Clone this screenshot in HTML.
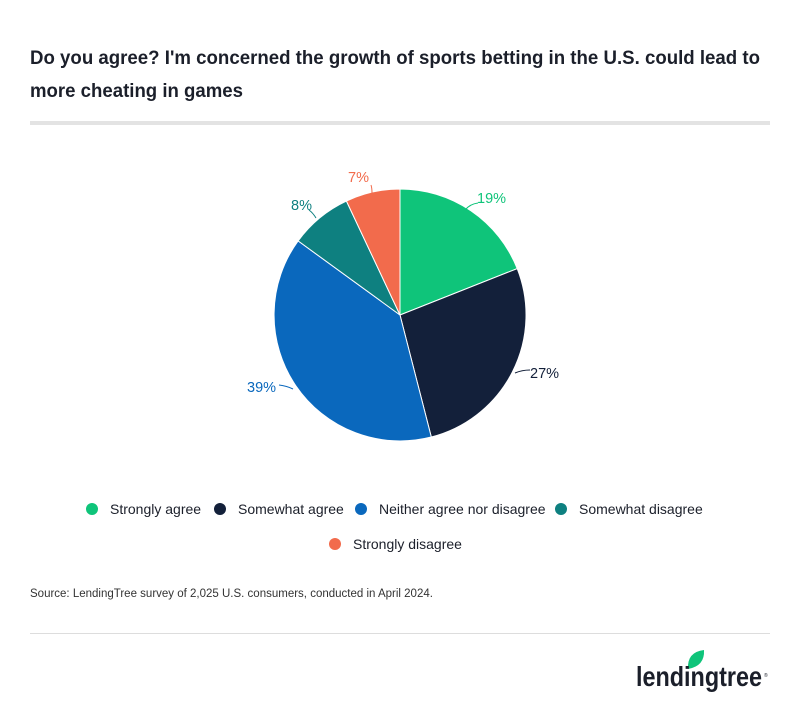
<!DOCTYPE html>
<html><head><meta charset="utf-8"><style>
body{margin:0;background:#fff;width:800px;height:706px;overflow:hidden;font-family:"Liberation Sans",sans-serif;}
</style></head><body>
<svg width="800" height="706" xmlns="http://www.w3.org/2000/svg" font-family="Liberation Sans, sans-serif">
<text x="30" y="64" font-size="19" font-weight="bold" fill="#1b1f2a" textLength="730" lengthAdjust="spacingAndGlyphs">Do you agree? I'm concerned the growth of sports betting in the U.S. could lead to</text>
<text x="30" y="97" font-size="19" font-weight="bold" fill="#1b1f2a" textLength="213" lengthAdjust="spacingAndGlyphs">more cheating in games</text>
<rect x="30" y="121" width="740" height="4" fill="#e3e3e3"/>
<g stroke="#fff" stroke-width="1">
<path d="M400,315 L400,189 A126,126 0 0 1 517.2,268.6 Z" fill="#0fc47a"/>
<path d="M400,315 L517.2,268.6 A126,126 0 0 1 431.3,437 Z" fill="#13203a"/>
<path d="M400,315 L431.3,437 A126,126 0 0 1 298.1,240.9 Z" fill="#0a68bd"/>
<path d="M400,315 L298.1,240.9 A126,126 0 0 1 346.4,201 Z" fill="#0e8080"/>
<path d="M400,315 L346.4,201 A126,126 0 0 1 400,189 Z" fill="#f26b4c"/>
</g>
<g fill="none" stroke-width="1">
<path d="M465,210 Q470,204 478,203" stroke="#0fc47a"/>
<path d="M515,373 Q522,370 530,370" stroke="#13203a"/>
<path d="M279,385 Q287,386 293,389" stroke="#0a68bd"/>
<path d="M316,218 Q313,213 309,210" stroke="#0e8080"/>
<path d="M372,193 Q372,188 371,185" stroke="#f26b4c"/>
</g>
<g font-size="14.5" font-weight="500">
<text x="477" y="203" fill="#0fc47a">19%</text>
<text x="530" y="378" fill="#13203a">27%</text>
<text x="247" y="392" fill="#0a68bd">39%</text>
<text x="291" y="210" fill="#0e8080">8%</text>
<text x="348" y="182" fill="#f26b4c">7%</text>
</g>
<g font-size="14" fill="#1b1f2a">
<circle cx="92" cy="509" r="6" fill="#0fc47a"/><text x="110" y="514">Strongly agree</text>
<circle cx="220" cy="509" r="6" fill="#13203a"/><text x="238" y="514">Somewhat agree</text>
<circle cx="361" cy="509" r="6" fill="#0a68bd"/><text x="379" y="514">Neither agree nor disagree</text>
<circle cx="561" cy="509" r="6" fill="#0e8080"/><text x="579" y="514">Somewhat disagree</text>
<circle cx="335" cy="544" r="6" fill="#f26b4c"/><text x="353" y="549">Strongly disagree</text>
</g>
<text x="30" y="597" font-size="11.5" fill="#333">Source: LendingTree survey of 2,025 U.S. consumers, conducted in April 2024.</text>
<rect x="30" y="633" width="740" height="1" fill="#ddd"/>
<path d="M688,669 Q687,652 704,650 Q705,666 688,669 Z" fill="#0fc47a"/>
<text x="636" y="686" font-size="28" font-weight="bold" fill="#1b1f2a" textLength="126" lengthAdjust="spacingAndGlyphs">lendingtree</text>
<text x="764" y="677" font-size="5" fill="#1b1f2a">®</text>
</svg>
</body></html>
